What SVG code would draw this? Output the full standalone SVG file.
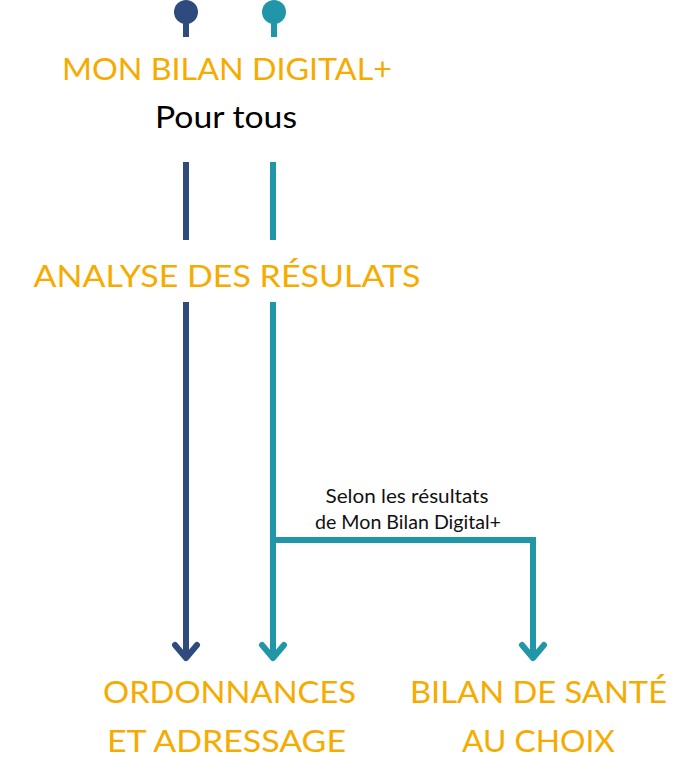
<svg xmlns="http://www.w3.org/2000/svg" width="686" height="777" viewBox="0 0 686 777">
<style>
.t{font-family:Lato,"Liberation Sans",sans-serif;font-size:31px;fill:#f6ab00;text-anchor:middle}
.b{font-family:Lato,"Liberation Sans",sans-serif;font-size:31px;fill:#000;text-anchor:middle}
.s{font-family:Lato,"Liberation Sans",sans-serif;font-size:18.5px;fill:#111;text-anchor:middle}
.n{stroke:#2f4a7c;stroke-width:6;fill:none}
.c{stroke:#2196a8;stroke-width:6;fill:none}
.h{stroke-linecap:round;stroke-linejoin:round}
</style>
<rect width="686" height="777" fill="#fff"/>
<g id="connectors">
<circle cx="186" cy="12" r="12" fill="#2f4a7c"/>
<line class="n" x1="186" y1="20" x2="186" y2="37" stroke-width="5"/>
<circle cx="274" cy="12" r="12" fill="#2196a8"/>
<line class="c" x1="274" y1="20" x2="274" y2="37" stroke-width="5"/>
<line class="n" x1="186" y1="162" x2="186" y2="240"/>
<line class="c" x1="273" y1="162" x2="273" y2="240"/>
<line class="n" x1="186" y1="302" x2="186" y2="656"/>
<polyline class="n h" points="175,645 186,658 197,645"/>
<line class="c" x1="273" y1="302" x2="273" y2="656"/>
<polyline class="c h" points="262,645 273,658 284,645"/>
<polyline class="c" points="273,540 533,540 533,656"/>
<polyline class="c h" points="522,645 533,658 544,645"/>
</g>
<g id="mon-bilan">
<text class="t" x="227" y="80" textLength="330" lengthAdjust="spacingAndGlyphs">MON BILAN DIGITAL+</text>
<text class="b" x="226" y="128" textLength="142" lengthAdjust="spacingAndGlyphs">Pour tous</text>
</g>
<g id="analyse">
<text class="t" x="227" y="287" textLength="387" lengthAdjust="spacingAndGlyphs">ANALYSE DES RÉSULATS</text>
</g>
<g id="label">
<text class="s" x="407" y="503" textLength="163" lengthAdjust="spacingAndGlyphs">Selon les résultats</text>
<text class="s" x="408" y="529" textLength="186" lengthAdjust="spacingAndGlyphs">de Mon Bilan Digital+</text>
</g>
<g id="ordonnances">
<text class="t" x="229.5" y="703" textLength="253" lengthAdjust="spacingAndGlyphs">ORDONNANCES</text>
<text class="t" x="226.5" y="752" textLength="239" lengthAdjust="spacingAndGlyphs">ET ADRESSAGE</text>
</g>
<g id="bilan-sante">
<text class="t" x="538.5" y="703" textLength="257" lengthAdjust="spacingAndGlyphs">BILAN DE SANTÉ</text>
<text class="t" x="538.5" y="752" textLength="153" lengthAdjust="spacingAndGlyphs">AU CHOIX</text>
</g>
</svg>
